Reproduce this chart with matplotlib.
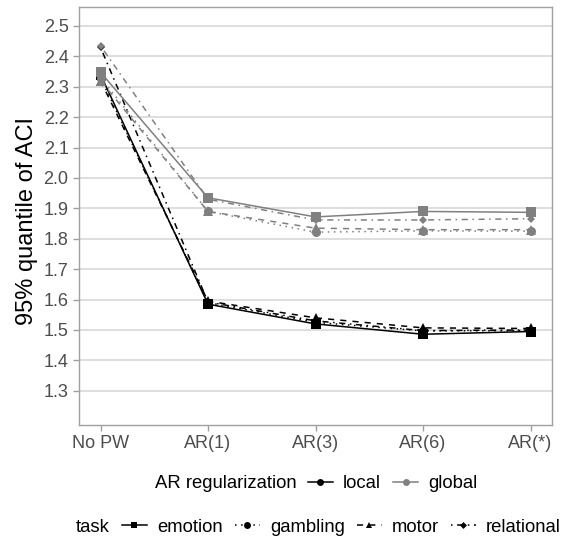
import matplotlib.pyplot as plt
from matplotlib.lines import Line2D

plt.rcParams['font.family'] = ['Liberation Sans', 'DejaVu Sans']

# Datos
metodos = ["No PW", "AR(1)", "AR(3)", "AR(6)", "AR(*)"]
x_pos = [0, 1, 2, 3, 4]

local_emotion = [2.34, 1.585, 1.520, 1.486, 1.495]
local_gambling = [2.33, 1.590, 1.525, 1.497, 1.498]
local_motor = [2.32, 1.595, 1.540, 1.507, 1.505]
local_relational = [2.43, 1.592, 1.530, 1.498, 1.500]

global_emotion = [2.348, 1.935, 1.872, 1.890, 1.887]
global_gambling = [2.33, 1.890, 1.822, 1.826, 1.825]
global_motor = [2.32, 1.890, 1.835, 1.830, 1.830]
global_relational = [2.435, 1.930, 1.862, 1.862, 1.866]

tareas = ["emotion", "gambling", "motor", "relational"]
marcadores = {"emotion": "s", "gambling": "o", "motor": "^", "relational": "D"}
tam_marcador = {"emotion": 6.5, "gambling": 6.5, "motor": 6.5, "relational": 4}
estilos = {"emotion": "-", "gambling": (0, (1, 3)), "motor": (0, (4, 4)),
           "relational": (0, (1, 3, 4, 3))}
colores = {"local": "black", "global": "#808080"}

series = {
    "local": [local_emotion, local_gambling, local_motor, local_relational],
    "global": [global_emotion, global_gambling, global_motor, global_relational],
}

fig = plt.figure(figsize=(5.61, 5.43), dpi=100)
ax = fig.add_axes([79 / 561, 1 - 425 / 543, (552 - 79) / 561, (425 - 7) / 543])

for reg in ["local", "global"]:
    for tarea, valores in zip(tareas, series[reg]):
        ax.plot(x_pos, valores, color=colores[reg], linestyle=estilos[tarea],
                marker=marcadores[tarea], markersize=tam_marcador[tarea],
                linewidth=1.1, markeredgewidth=0)

ax.set_xlim(-0.2, 4.2)
ax.set_ylim(1.1875, 2.5625)
ax.set_xticks(x_pos)
ax.set_xticklabels(metodos)
ax.set_yticks([1.3 + 0.1 * i for i in range(13)])
ax.set_yticklabels([f"{1.3 + 0.1 * i:.1f}" for i in range(13)])
ax.grid(axis='y', color='#dedede', linewidth=1.4)
ax.set_axisbelow(True)
for s in ax.spines.values():
    s.set_color('#a0a0a0')
    s.set_linewidth(1.0)
ax.tick_params(colors='#a0a0a0', labelcolor='#4d4d4d', labelsize=13, length=4, width=1)
ax.set_ylabel("95% quantile of ACI", fontsize=17)
ax.yaxis.set_label_coords(-0.086, 0.488)

# Leyendas
fs_ley = 13.3
opciones = dict(frameon=False, fontsize=fs_ley, handlelength=1.35, handletextpad=0.55,
                columnspacing=0.65, borderpad=0, borderaxespad=0)

fig.text(155 / 561, 1 - 484 / 543, "AR regularization", fontsize=fs_ley, va='center', ha='left')
h_reg = [Line2D([], [], color=colores[r], marker='o', markersize=5, markeredgewidth=0, linewidth=1.1)
         for r in ["local", "global"]]
fig.legend(h_reg, ["local", "global"], loc='center left', bbox_to_anchor=(308 / 561, 1 - 484 / 543),
           ncol=2, **opciones)

fig.text(76 / 561, 1 - 527 / 543, "task", fontsize=fs_ley, va='center', ha='left')
h_tarea = [Line2D([], [], color='black', linestyle=estilos[t], marker=marcadores[t],
                  markersize=5 if t != "relational" else 3.5, markeredgewidth=0, linewidth=1.1)
           for t in tareas]
fig.legend(h_tarea, tareas, loc='center left', bbox_to_anchor=(122 / 561, 1 - 527 / 543),
           ncol=4, **opciones)

fig.savefig("out.png", dpi=100)
